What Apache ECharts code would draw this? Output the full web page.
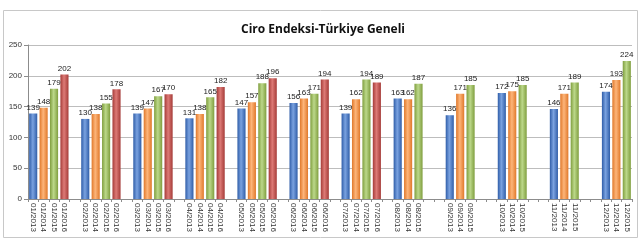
<!DOCTYPE html>
<html><head><meta charset="utf-8">
<script src="https://cdn.jsdelivr.net/npm/echarts@6/dist/echarts.min.js"></script>
<style>html,body{margin:0;padding:0;background:#fff}#c{width:640px;height:244px}</style>
</head><body><div id="c"></div>
<script>
const titleText = 'Ciro Endeksi-Türkiye Geneli';
const months = ['01','02','03','04','05','06','07','08','09','10','11','12'];
const years = ['2013','2014','2015','2016'];
const v2013 = [139,130,139,131,147,156,139,163,136,172,146,174];
const v2014 = [148,138,147,138,157,163,162,162,171,175,171,193];
const v2015 = [179,155,167,165,188,171,194,187,185,185,189,224];
const v2016 = [202,178,170,182,196,194,189];
const yMin = 0, yMax = 250, yStep = 50;

const baseColors = [
  ['#2f5da8','#7aa2e0','#2f5da8'],
  ['#e0782a','#fdb57a','#e0782a'],
  ['#7f9e3e','#bcd88a','#7f9e3e'],
  ['#a53b38','#dd7a76','#a53b38']
];
function grad(c){
  return {type:'linear',x:0,y:0,x2:1,y2:0,colorStops:[
    {offset:0,color:c[0]},{offset:0.45,color:c[1]},{offset:1,color:c[2]}]};
}
const series = [v2013, v2014, v2015, v2016];
const cats = [], data = [];
months.forEach((m, mi) => {
  for (let yi = 0; yi < 4; yi++) {
    const v = series[yi][mi];
    if (v === undefined) {
      if (mi < months.length - 1) { cats.push(''); data.push('-'); }
      continue;
    }
    cats.push(m + '/' + years[yi]);
    data.push({value: v, itemStyle: {color: grad(baseColors[yi])}});
  }
  if (mi < months.length - 1) { cats.push(' '); data.push('-'); }
});

const chart = echarts.init(document.getElementById('c'), null, {renderer:'canvas'});
chart.setOption({
  animation: false,
  backgroundColor: '#fff',
  title: {text: titleText, left: 318, top: 19, textAlign: 'center',
    textStyle: {fontFamily: 'Open Sans', fontWeight: 'bold', fontSize: 12, color: '#111'}},
  graphic: [{type:'rect', shape:{x:3.5,y:10.5,width:634,height:227},
    style:{fill:'none', stroke:'#c8c8c8', lineWidth:1}, silent:true}],
  grid: {left: 28, right: 8, top: 45, bottom: 45, containLabel: false},
  xAxis: {type:'category', data: cats,
    axisLine:{lineStyle:{color:'#8c8c8c'}},
    axisTick:{show:true, interval:0, length:3, lineStyle:{color:'#8c8c8c'}},
    axisLabel:{interval:0, rotate:-90, fontSize:8, color:'#333', fontFamily:'Liberation Sans', margin:4}},
  yAxis: {type:'value', min:yMin, max:yMax, interval:yStep,
    axisLine:{show:true, lineStyle:{color:'#8c8c8c'}},
    axisTick:{show:true, length:4, lineStyle:{color:'#8c8c8c'}},
    axisLabel:{fontSize:8, color:'#333', fontFamily:'Liberation Sans', margin:6},
    splitLine:{lineStyle:{color:'#bdbdbd'}}},
  series: [{type:'bar', data: data, barWidth: '78%',
    label:{show:true, position:'top', fontSize:8, color:'#222', fontFamily:'Liberation Sans', distance:2}}]
});
</script></body></html>
